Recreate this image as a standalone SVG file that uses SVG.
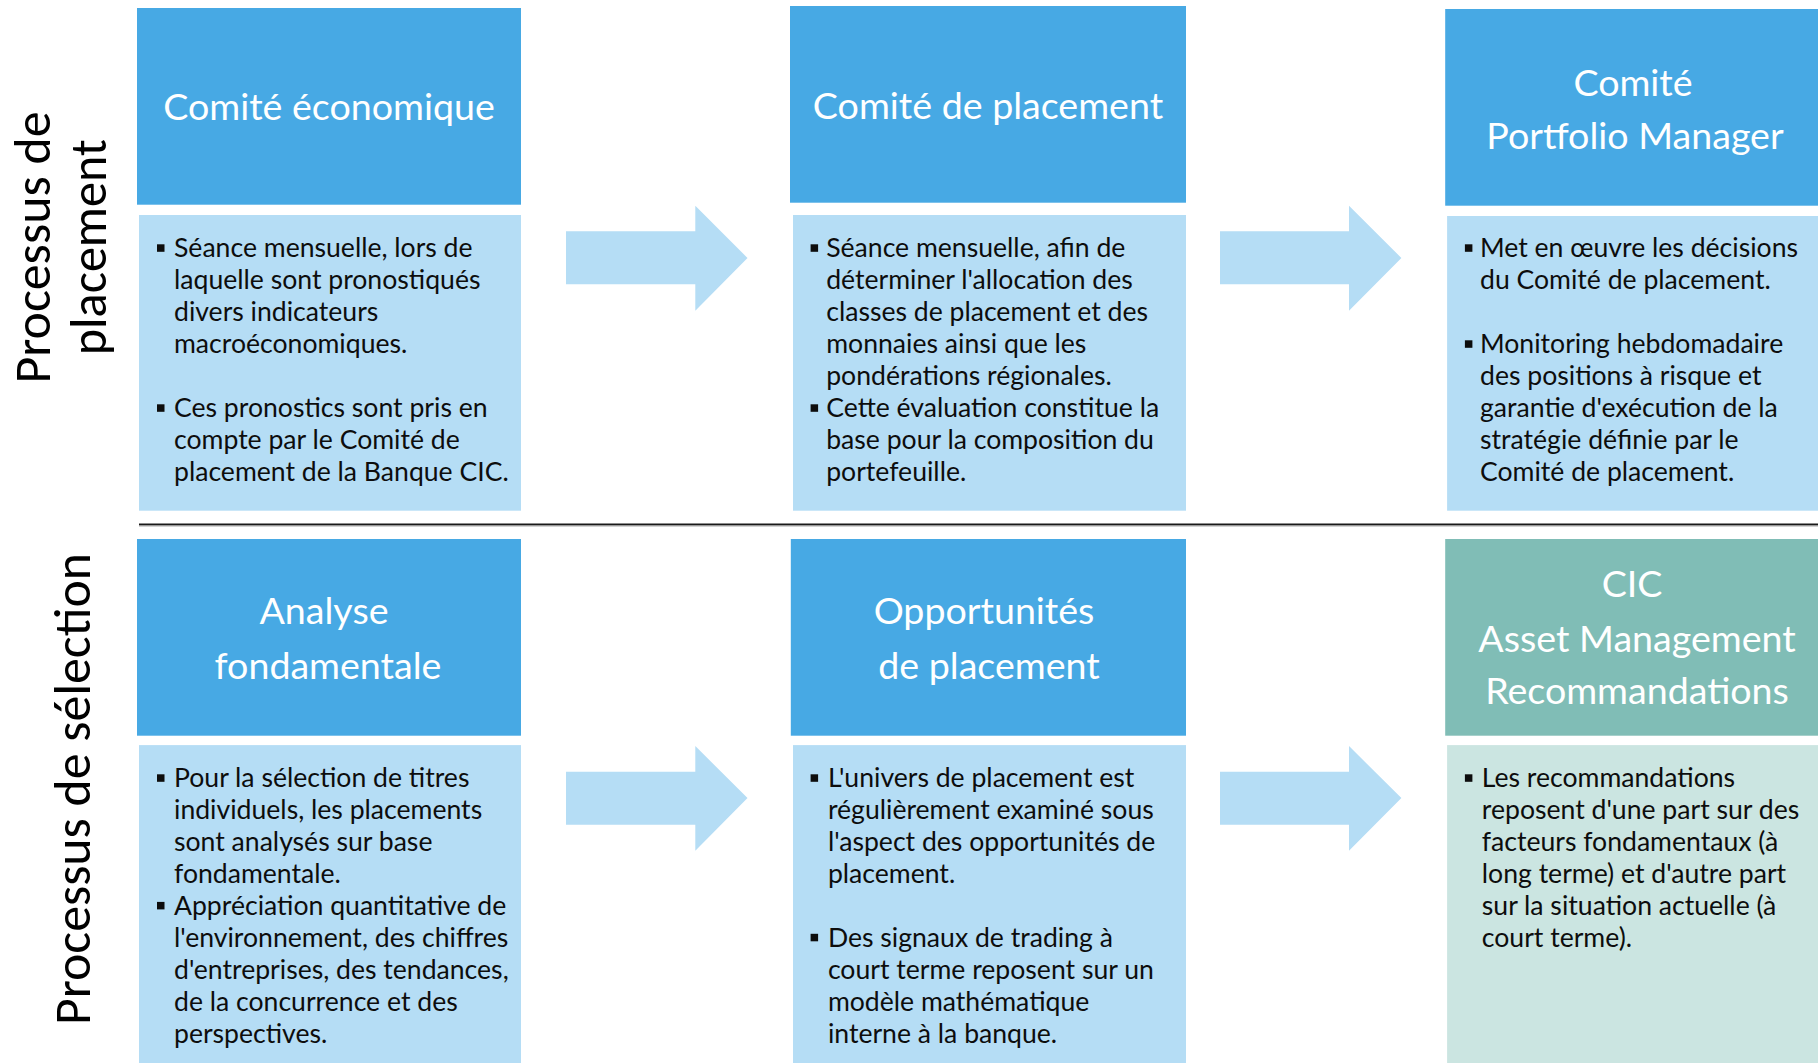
<svg xmlns="http://www.w3.org/2000/svg" width="1818" height="1063" viewBox="0 0 1818 1063">
<style>
.hdr{fill:#47A9E4}
.hdrT{fill:#80BDB6}
.body{fill:#B5DDF5}
.bodyT{fill:#CBE5E1}
.arrow{fill:#B5DDF5}
.ht{font-family:Lato,"Liberation Sans",sans-serif;font-size:37.6px;fill:#FFFFFF;text-anchor:middle}
.bt{font-family:Lato,"Liberation Sans",sans-serif;font-size:26.6px;fill:#0D0D0D}
.lbl{font-family:Carlito,Lato,"Liberation Sans",sans-serif;font-size:51px;fill:#000000;text-anchor:middle}
.bul{fill:#0D0D0D}
</style>
<rect width="1818" height="1063" fill="#FFFFFF"/>

<g id="label-placement">
<text class="lbl" transform="translate(50,247.5) rotate(-90)" textLength="272" lengthAdjust="spacingAndGlyphs">Processus de</text>
<text class="lbl" transform="translate(105.5,247.3) rotate(-90)" textLength="216" lengthAdjust="spacingAndGlyphs">placement</text>
</g>
<g id="label-selection">
<text class="lbl" transform="translate(90,789) rotate(-90)" textLength="472" lengthAdjust="spacingAndGlyphs">Processus de sélection</text>
</g>

<g id="separator">
<line x1="139" y1="524.5" x2="1818" y2="524.5" stroke="#1A1A1A" stroke-width="2"/>
<line x1="139" y1="526.3" x2="1818" y2="526.3" stroke="#C8C8C8" stroke-width="1"/>
</g>

<g id="connectors">
<polygon class="arrow" points="566,231.3 695.3,231.3 695.3,205.7 747.5,258 695.3,310.7 695.3,284.3 566,284.3"/>
<polygon class="arrow" points="1220,231.3 1349,231.3 1349,205.7 1401.4,258 1349,310.7 1349,284.3 1220,284.3"/>
<polygon class="arrow" points="566,771.7 695.3,771.7 695.3,746.1 747.5,798 695.3,850.7 695.3,824.7 566,824.7"/>
<polygon class="arrow" points="1220,771.7 1349,771.7 1349,746.1 1401.4,798 1349,850.7 1349,824.7 1220,824.7"/>
</g>

<g id="node-comite-economique">
<rect class="hdr" x="137" y="8" width="384" height="196.7"/>
<text class="ht" x="329" y="120">Comité économique</text>
<rect class="body" x="139" y="215" width="382" height="295.7"/>
<rect class="bul" x="157" y="244.3" width="7.5" height="7.5"/>
<rect class="bul" x="157" y="404.3" width="7.5" height="7.5"/>
<text class="bt">
<tspan x="174" y="257.3">Séance mensuelle, lors de</tspan>
<tspan x="174" y="289.3">laquelle sont pronostiqués</tspan>
<tspan x="174" y="321.3">divers indicateurs</tspan>
<tspan x="174" y="353.3">macroéconomiques.</tspan>
<tspan x="174" y="417.3">Ces pronostics sont pris en</tspan>
<tspan x="174" y="449.3">compte par le Comité de</tspan>
<tspan x="174" y="481.3">placement de la Banque CIC.</tspan>
</text>
</g>

<g id="node-comite-placement">
<rect class="hdr" x="790" y="6" width="396" height="196.7"/>
<text class="ht" x="988" y="119.3">Comité de placement</text>
<rect class="body" x="793" y="215" width="393" height="295.7"/>
<rect class="bul" x="810.6" y="244.3" width="7.5" height="7.5"/>
<rect class="bul" x="810.6" y="404.3" width="7.5" height="7.5"/>
<text class="bt">
<tspan x="826.2" y="257.3">Séance mensuelle, afin de</tspan>
<tspan x="826.2" y="289.3">déterminer l'allocation des</tspan>
<tspan x="826.2" y="321.3">classes de placement et des</tspan>
<tspan x="826.2" y="353.3">monnaies ainsi que les</tspan>
<tspan x="826.2" y="385.3">pondérations régionales.</tspan>
<tspan x="826.2" y="417.3">Cette évaluation constitue la</tspan>
<tspan x="826.2" y="449.3">base pour la composition du</tspan>
<tspan x="826.2" y="481.3">portefeuille.</tspan>
</text>
</g>

<g id="node-comite-pm">
<rect class="hdr" x="1445.2" y="9" width="372.8" height="196.7"/>
<text class="ht" x="1633" y="96">Comité</text>
<text class="ht" x="1635" y="149">Portfolio Manager</text>
<rect class="body" x="1447.1" y="216" width="370.9" height="294.7"/>
<rect class="bul" x="1464.9" y="244.3" width="7.5" height="7.5"/>
<rect class="bul" x="1464.9" y="340.3" width="7.5" height="7.5"/>
<text class="bt">
<tspan x="1480" y="257.3">Met en œuvre les décisions</tspan>
<tspan x="1480" y="289.3">du Comité de placement.</tspan>
<tspan x="1480" y="353.3">Monitoring hebdomadaire</tspan>
<tspan x="1480" y="385.3">des positions à risque et</tspan>
<tspan x="1480" y="417.3">garantie d'exécution de la</tspan>
<tspan x="1480" y="449.3">stratégie définie par le</tspan>
<tspan x="1480" y="481.3">Comité de placement.</tspan>
</text>
</g>

<g id="node-analyse">
<rect class="hdr" x="137" y="539" width="384" height="196.7"/>
<text class="ht" x="324" y="623.9">Analyse</text>
<text class="ht" x="328" y="678.6">fondamentale</text>
<rect class="body" x="139" y="745.1" width="382" height="317.9"/>
<rect class="bul" x="157" y="774.3" width="7.5" height="7.5"/>
<rect class="bul" x="157" y="901.9" width="7.5" height="7.5"/>
<text class="bt">
<tspan x="174" y="787.3">Pour la sélection de titres</tspan>
<tspan x="174" y="819.2">individuels, les placements</tspan>
<tspan x="174" y="851.1">sont analysés sur base</tspan>
<tspan x="174" y="883">fondamentale.</tspan>
<tspan x="174" y="914.9">Appréciation quantitative de</tspan>
<tspan x="174" y="946.8">l'environnement, des chiffres</tspan>
<tspan x="174" y="978.7">d'entreprises, des tendances,</tspan>
<tspan x="174" y="1010.6">de la concurrence et des</tspan>
<tspan x="174" y="1042.5">perspectives.</tspan>
</text>
</g>

<g id="node-opportunites">
<rect class="hdr" x="790.8" y="539" width="395.2" height="196.7"/>
<text class="ht" x="984" y="623.9">Opportunités</text>
<text class="ht" x="989" y="678.6">de placement</text>
<rect class="body" x="793" y="745.1" width="393" height="317.9"/>
<rect class="bul" x="810.6" y="774.3" width="7.5" height="7.5"/>
<rect class="bul" x="810.6" y="933.8" width="7.5" height="7.5"/>
<text class="bt">
<tspan x="827.9" y="787.3">L'univers de placement est</tspan>
<tspan x="827.9" y="819.2">régulièrement examiné sous</tspan>
<tspan x="827.9" y="851.1">l'aspect des opportunités de</tspan>
<tspan x="827.9" y="883">placement.</tspan>
<tspan x="827.9" y="946.8">Des signaux de trading à</tspan>
<tspan x="827.9" y="978.7">court terme reposent sur un</tspan>
<tspan x="827.9" y="1010.6">modèle mathématique</tspan>
<tspan x="827.9" y="1042.5">interne à la banque.</tspan>
</text>
</g>

<g id="node-cic-am">
<rect class="hdrT" x="1445.2" y="539" width="372.8" height="196.7"/>
<text class="ht" x="1632" y="596.9">CIC</text>
<text class="ht" x="1637" y="651.6">Asset Management</text>
<text class="ht" x="1637" y="703.5">Recommandations</text>
<rect class="bodyT" x="1447.1" y="745.1" width="370.9" height="317.9"/>
<rect class="bul" x="1464.9" y="774.3" width="7.5" height="7.5"/>
<text class="bt">
<tspan x="1481.8" y="787.3">Les recommandations</tspan>
<tspan x="1481.8" y="819.2">reposent d'une part sur des</tspan>
<tspan x="1481.8" y="851.1">facteurs fondamentaux (à</tspan>
<tspan x="1481.8" y="883">long terme) et d'autre part</tspan>
<tspan x="1481.8" y="914.9">sur la situation actuelle (à</tspan>
<tspan x="1481.8" y="946.8">court terme).</tspan>
</text>
</g>
</svg>
